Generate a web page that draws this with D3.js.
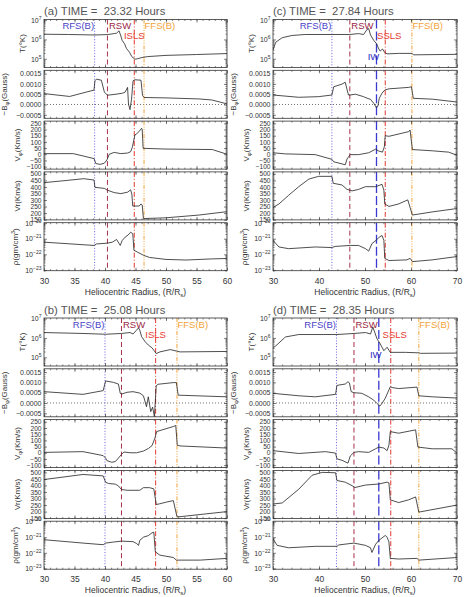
<!DOCTYPE html>
<html>
<head>
<meta charset="utf-8">
<script src="https://cdn.jsdelivr.net/npm/d3@7"></script>
<style>
  body { margin: 0; background: #fff; }
  svg { display: block; font-family: "Liberation Sans", Arial, sans-serif; }
</style>
</head>
<body>
<svg id="fig" width="464" height="597"></svg>
<script>
// ---- data: [radius (R/Rs), value] ----

// (a) 23.32 h
const tempA = [[30,1.86e6],[34,1.8e6],[38.3,1.7e6],[40.4,1.78e6],[41.5,2.0e6],[41.9,2.1e6],[42.3,2.8e6],[42.6,1.5e6],[42.8,9e5],[43.2,6e5],[43.5,3.5e5],[44.0,2.2e5],[44.4,1.3e5],[44.9,9.5e4],[45.3,1.0e5],[46.0,1.15e5],[47,1.3e5],[50,1.5e5],[55,1.66e5],[60,1.86e5]];
const bzA = [[30,0.00053],[34.2,0.00039],[38.2,0.0007],[38.35,0.00115],[38.6,0.00123],[39.4,0.00118],[39.9,0.0006],[40.4,0.00045],[41.8,0.0005],[42.9,0.00055],[43.3,0.0006],[43.7,0.00083],[43.85,0.00002],[44.1,-0.00025],[44.35,0.00026],[44.6,0.00115],[44.9,0.0012],[45.9,0.00118],[46.15,0.00045],[46.4,0.00034],[50,0.00032],[55.4,0.00027],[57.5,0.00022],[60,0.00003]];
const vphiA = [[30,5],[34.8,5],[38.2,-35],[38.5,-75],[39.2,-82],[39.9,-72],[40.3,-47],[40.7,0],[41.5,15],[42.6,5],[43.7,10],[44.2,20],[44.5,60],[44.9,156],[45.2,165],[45.8,196],[46.0,210],[46.1,200],[46.25,48],[50,42],[57.6,38],[60,0]];
const vrA = [[30,433],[33.8,450],[36.5,463],[38.2,453],[38.35,397],[39.9,389],[40.4,375],[41.5,357],[42.6,349],[43.7,360],[44.2,378],[44.4,345],[44.55,254],[45.6,254],[45.9,270],[46.1,262],[46.3,158],[50,164],[55.4,185],[60,211]];
const rhoA = [[30,6.0e-22],[38.2,3.7e-22],[38.6,4.6e-22],[40.4,5.2e-22],[41.2,6.0e-22],[41.9,8.9e-22],[42.5,3.7e-22],[42.8,7.5e-22],[43.3,1.26e-21],[43.8,1.74e-21],[44.2,2.6e-21],[44.55,2.1e-21],[44.75,1.8e-22],[45.3,1.4e-22],[46.3,8.7e-23],[47.3,6.3e-23],[50,4.7e-23],[53.3,4.3e-23],[57.6,5.1e-23],[60,5.4e-23]];

// (b) 25.08 h
const tempB = [[30,1.9e6],[36.4,1.7e6],[40.1,1.55e6],[42.7,1.7e6],[44.1,1.9e6],[44.6,1.6e6],[45.5,3.3e6],[45.7,2.5e6],[46.0,1.17e6],[46.6,6.3e5],[47.1,4.3e5],[47.7,3.1e5],[48.2,1.9e5],[48.4,1.55e5],[49.0,1.9e5],[50.7,2.5e5],[51.7,2.1e5],[52.3,1.9e5],[60,2.0e5]];
const bzB = [[30,0.00055],[36.4,0.00042],[39.7,0.0006],[40.1,0.00107],[41.4,0.001],[42.2,0.00092],[42.5,0.00047],[42.7,0.00043],[43.6,0.00052],[44.6,0.00055],[45.7,0.00048],[46.3,0.00035],[46.8,-0.00018],[47.1,0.0003],[47.5,-0.00042],[47.8,-0.0002],[48.1,-0.00065],[48.4,0.00084],[48.7,0.00091],[51.2,0.00099],[51.7,0.00099],[52.0,0.00038],[60,0.0003]];
const vphiB = [[30,3],[36.4,9],[39.7,-23],[40.1,-43],[40.3,-63],[41.1,-77],[41.7,-71],[42.2,-43],[42.7,-14],[43.1,6],[44.1,0],[45.2,0],[46.3,14],[47.1,34],[47.7,57],[48.2,120],[48.45,171],[51.2,212],[51.6,220],[51.85,60],[52.3,55],[60,38]];
const vrB = [[30,445],[36.4,484],[39.7,473],[40.1,424],[40.6,415],[41.7,410],[42.2,396],[42.7,369],[43.6,363],[45.7,363],[46.3,383],[47.3,383],[48.0,374],[48.4,254],[49.0,260],[50.1,273],[51.2,284],[51.8,161],[52.3,161],[60,200]];
const rhoB = [[30,6.9e-22],[36.4,4.2e-22],[39.7,3.3e-22],[40.1,4.2e-22],[41.4,4.9e-22],[42.7,5.6e-22],[44.6,5.2e-22],[45.2,3.9e-22],[45.5,3.0e-22],[45.7,6.3e-22],[46.3,1.0e-21],[47.1,1.26e-21],[47.7,1.9e-21],[48.0,2.1e-21],[48.25,1.15e-22],[49.0,7.1e-23],[51.2,5.0e-23],[51.7,3.4e-23],[55.6,3.4e-23],[60,4.4e-23]];

// (c) 27.84 h
const tempC = [[30,2.9e5],[30.6,7.2e5],[32.0,1.23e6],[34.1,1.6e6],[37.0,1.8e6],[42.8,1.8e6],[46.7,1.8e6],[48.6,2.0e6],[49.7,1.8e6],[50.4,3.2e6],[50.8,3.6e6],[51.2,1.7e6],[51.9,8.9e5],[52.5,6.0e5],[53.0,3.2e5],[53.3,2.5e5],[53.8,3.2e5],[54.3,2.1e5],[54.8,1.8e5],[57.3,1.9e5],[60.2,1.9e5],[60.6,1.6e5],[70,1.7e5]];
const bzC = [[30,0.00046],[35.6,0.00035],[39.9,0.00038],[42.8,0.00046],[43.2,0.00086],[45.0,0.00099],[45.7,0.00108],[46.4,0.00046],[46.8,0.00046],[47.9,0.0005],[49.7,0.00038],[50.4,0.00031],[51.2,0.00025],[51.9,0.00006],[52.5,-0.00016],[52.8,-0.00008],[53.1,0.0003],[53.7,0.00055],[54.3,0.0007],[55.2,0.00076],[59.5,0.00083],[60.1,0.00086],[60.5,0.0003],[64.6,0.00026],[70,0.00012]];
const vphiC = [[30,12],[32.7,3],[39.2,-3],[42.8,-41],[43.2,-61],[45.0,-78],[45.7,-85],[46.1,-38],[46.8,-3],[48.6,-3],[50.8,12],[52.3,41],[53.0,26],[53.8,17],[54.2,60],[54.4,150],[55.2,145],[59.5,183],[59.8,196],[60.3,38],[64.6,28],[68.2,17],[70,-8]];
const vrC = [[30,243],[31.3,270],[33.4,336],[35.6,402],[37.8,460],[39.9,481],[42.8,481],[43.1,428],[45.0,415],[46.1,381],[47.2,370],[48.6,381],[50.1,402],[52.3,402],[53.7,420],[54.1,375],[54.3,270],[55.2,251],[57.3,270],[59.3,301],[60.3,185],[64.6,209],[70,235]];
const rhoC = [[30,7.8e-22],[31.3,2.95e-22],[33.4,2.3e-22],[39.2,2.95e-22],[42.8,2.7e-22],[43.5,3.2e-22],[46.8,3.7e-22],[48.6,3.7e-22],[50.1,2.3e-22],[50.8,1.6e-22],[51.5,4.8e-22],[52.4,7.8e-22],[53.1,1.26e-21],[53.7,1.6e-21],[54.1,7.8e-22],[54.3,5.5e-23],[55.2,4.0e-23],[59.1,4.4e-23],[59.8,5.5e-23],[60.3,3.4e-23],[64.6,4.4e-23],[70,7.2e-23]];

// (d) 28.35 h
const tempD = [[30,2.95e5],[30.9,4.5e5],[32.7,1.12e6],[35.6,1.5e6],[43.9,1.5e6],[47.6,1.7e6],[50.1,1.9e6],[51.2,1.6e6],[51.7,3.7e6],[52.1,2.0e6],[52.6,9.1e5],[53.3,5.0e5],[54.1,2.2e5],[54.8,3.3e5],[55.5,1.8e5],[58.8,1.8e5],[61.7,1.7e5],[62.0,1.6e5],[70,1.65e5]];
const bzD = [[30,0.00047],[35.6,0.00035],[39.2,0.0003],[43.6,0.00042],[43.9,0.00085],[44.3,0.00087],[45.7,0.00092],[46.3,0.00103],[46.6,0.00098],[47.0,0.00055],[47.6,0.0005],[49.3,0.00047],[50.8,0.0003],[51.9,0.00014],[52.6,-0.00002],[53.2,-0.00015],[53.7,-0.00002],[54.4,0.00023],[55.5,0.00079],[55.9,0.00075],[57.3,0.0007],[61.3,0.00077],[61.7,0.00035],[64.6,0.0003],[70,0.00024]];
const vphiD = [[30,17],[35.6,-6],[41.4,9],[43.6,-3],[43.9,-49],[45.0,-61],[46.3,-84],[46.8,-26],[47.6,3],[48.6,9],[50.8,3],[52.3,32],[53.0,46],[54.1,38],[54.8,17],[55.2,61],[55.5,171],[57.3,158],[61.0,185],[61.5,46],[64.6,32],[68.9,32],[70,-3]];
const vrD = [[30,258],[32.0,266],[35.6,371],[38.5,478],[40.7,500],[43.6,497],[43.9,438],[45.7,425],[47.2,398],[47.8,384],[50.1,403],[53.0,411],[54.8,425],[55.2,420],[55.5,290],[57.3,269],[59.5,290],[61.0,312],[61.7,196],[70,250]];
const rhoD = [[30,7.9e-22],[30.9,3.0e-22],[33.4,2.1e-22],[39.2,2.6e-22],[43.9,2.6e-22],[44.3,3.2e-22],[47.6,4.2e-22],[50.1,3.0e-22],[51.2,2.1e-22],[51.5,1.05e-22],[52.3,3.5e-22],[53.0,6.2e-22],[54.4,1.29e-21],[54.8,1.0e-21],[55.2,5.0e-22],[55.5,4.4e-23],[57.3,4.0e-23],[61.3,4.4e-23],[61.7,3.4e-23],[70,5.0e-23]];

// shock / wave positions
const namesAB = ['RFS(B)', 'RSW', 'ISLS', 'FFS(B)'];
const namesCD = ['RFS(B)', 'RSW', 'IW', 'SSLS', 'FFS(B)'];
const shocksA = [38.3, 40.4, 44.8, 46.4];
const shocksB = [40.0, 42.7, 48.3, 51.8];
const shocksC = [42.8, 46.7, 52.5, 54.4, 60.2];
const shocksD = [43.8, 47.6, 53.0, 55.6, 61.7];

const times = ['23.32', '25.08', '27.84', '28.35'];
const xTicksLeft = [30, 35, 40, 45, 50, 55, 60];
const xTicksRight = [30, 40, 50, 60, 70];

// ---- layout ----
const svg = d3.select('#fig');
const cols = [
  { left: 44, right: 227, domain: [30, 60], ticks: xTicksLeft, minor: 1 },
  { left: 273, right: 457, domain: [30, 70], ticks: xTicksRight, minor: 2 }
];
const rowTops = [19.5, 318];
const step = 50.8, ph = 48;

const shockStyle = {
  'RFS(B)': { color: '#5a52d6', dash: '1,1.8', w: 0.9 },
  'RSW':    { color: '#a8304e', dash: '5,3', w: 1 },
  'ISLS':   { color: '#e23a32', dash: '5,2,1,2', w: 1 },
  'SSLS':   { color: '#e23a32', dash: '5,2,1,2', w: 1 },
  'FFS(B)': { color: '#f2a33a', dash: '4,1.5,1,1.5,1,1.5,1,1.5', w: 1 },
  'IW':     { color: '#3a3ad0', dash: '9,3', w: 1.3 }
};
const labelColor = { 'RFS(B)': '#4b3fc8', 'RSW': '#9a1f45', 'ISLS': '#e8392e', 'SSLS': '#e8392e', 'FFS(B)': '#f2a33a', 'IW': '#2c2cc0' };

const panels = [
  { tag: '(a)', time: times[0], col: 0, row: 0, T: tempA, Bz: bzA, Vp: vphiA, Vr: vrA, rho: rhoA, shocks: shocksA, names: namesAB },
  { tag: '(b)', time: times[1], col: 0, row: 1, T: tempB, Bz: bzB, Vp: vphiB, Vr: vrB, rho: rhoB, shocks: shocksB, names: namesAB },
  { tag: '(c)', time: times[2], col: 1, row: 0, T: tempC, Bz: bzC, Vp: vphiC, Vr: vrC, rho: rhoC, shocks: shocksC, names: namesCD },
  { tag: '(d)', time: times[3], col: 1, row: 1, T: tempD, Bz: bzD, Vp: vphiD, Vr: vrD, rho: rhoD, shocks: shocksD, names: namesCD }
];

function logMinors(dom) {
  const out = [];
  for (let e = Math.floor(Math.log10(dom[0])); e <= Math.ceil(Math.log10(dom[1])); e++)
    for (let m = 2; m <= 9; m++) {
      const v = m * Math.pow(10, e);
      if (v > dom[0] && v < dom[1]) out.push(v);
    }
  return out;
}
function linMinors(dom, s) {
  return d3.range(Math.ceil(dom[0] / s) * s, dom[1], s);
}

const vars = [
  { key: 'T', log: true, domain: [Math.pow(10, 4.55), Math.pow(10, 7.03)], ticks: [1e5, 1e6, 1e7], tx: 19, fs: 7 },
  { key: 'Bz', log: false, domain: [-0.00067, 0.00166], ticks: [-0.0005, 0, 0.0005, 0.001, 0.0015], minor: 0.0001, fmt: d3.format('.4f'), tx: 37, fs: 7 },
  { key: 'Vp', log: false, domain: [-120, 268], ticks: d3.range(-100, 251, 50), minor: 10, fmt: d3.format('d'), tx: 24, fs: 6.6 },
  { key: 'Vr', log: false, domain: [148, 515], ticks: d3.range(150, 501, 50), minor: 10, fmt: d3.format('d'), tx: 24, fs: 6.6 },
  { key: 'rho', log: true, domain: [Math.pow(10, -23.05), Math.pow(10, -19.975)], ticks: [1e-23, 1e-22, 1e-21, 1e-20], tx: 26, fs: 7 }
];

function yTitle(g, key) {
  if (key === 'T') { g.text('T(°K)'); return; }
  if (key === 'Bz') {
    g.append('tspan').text('−B');
    g.append('tspan').attr('dy', 2).attr('font-size', 6).text('φ');
    g.append('tspan').attr('dy', -2).text('(Gauss)');
    return;
  }
  if (key === 'Vp') {
    g.append('tspan').text('V');
    g.append('tspan').attr('dy', 2).attr('font-size', 6).text('φ');
    g.append('tspan').attr('dy', -2).text('(Km/s)');
    return;
  }
  if (key === 'Vr') { g.text('Vr(Km/s)'); return; }
  g.append('tspan').text('ρ(gm/cm');
  g.append('tspan').attr('dy', -3).attr('font-size', 5.5).text('3');
  g.append('tspan').attr('dy', 3).text(')');
}

function styleAxis(a) {
  a.select('.domain').remove();
  a.attr('color', '#333').attr('font-family', '"Liberation Sans", Arial, sans-serif');
  a.selectAll('line').attr('stroke-width', 0.6);
}

panels.forEach((p, pi) => {
  const c = cols[p.col];
  const x = d3.scaleLinear().domain(c.domain).range([c.left, c.right]);
  const xMinor = linMinors(c.domain, c.minor).filter(v => v > c.domain[0]);
  const row0 = rowTops[p.row];

  // panel title (two spaces after "=" as in the original)
  svg.append('text')
    .attr('x', c.left).attr('y', row0 - 4.5)
    .attr('font-size', 11.3).attr('fill', '#555')
    .text(`${p.tag} TIME =\u00a0\u00a0${p.time} Hours`);

  vars.forEach((v, i) => {
    const top = row0 + i * step, bot = top + ph;
    const y = (v.log ? d3.scaleLog() : d3.scaleLinear()).domain(v.domain).range([bot, top]);
    const g = svg.append('g');
    const cid = `clip${pi}_${i}`;
    svg.append('clipPath').attr('id', cid).append('rect')
      .attr('x', c.left).attr('y', top).attr('width', c.right - c.left).attr('height', ph);

    if (v.key === 'Bz') {
      g.append('line')
        .attr('x1', c.left).attr('x2', c.right).attr('y1', y(0)).attr('y2', y(0))
        .attr('stroke', '#333').attr('stroke-width', 0.7).attr('stroke-dasharray', '1,2');
    }

    // shock / wave markers
    p.shocks.forEach((s, k) => {
      const st = shockStyle[p.names[k]];
      g.append('line')
        .attr('x1', x(s)).attr('x2', x(s)).attr('y1', top).attr('y2', bot)
        .attr('stroke', st.color).attr('stroke-width', st.w).attr('stroke-dasharray', st.dash);
    });

    // data curve
    g.append('path')
      .datum(p[v.key])
      .attr('clip-path', `url(#${cid})`)
      .attr('fill', 'none').attr('stroke', '#222').attr('stroke-width', 0.8)
      .attr('d', d3.line().x(d => x(d[0])).y(d => y(d[1])));

    // frame
    g.append('rect')
      .attr('x', c.left).attr('y', top).attr('width', c.right - c.left).attr('height', ph)
      .attr('fill', 'none').attr('stroke', '#333').attr('stroke-width', 0.8);

    // x ticks (inward, top and bottom)
    const isBottom = i === vars.length - 1;
    const xb = g.append('g').attr('transform', `translate(0,${bot})`)
      .call(d3.axisBottom(x).tickValues(c.ticks).tickSize(-3).tickPadding(7)
        .tickFormat(isBottom ? d3.format('d') : ''));
    styleAxis(xb);
    xb.selectAll('text').attr('font-size', 8.5).attr('fill', '#333');
    styleAxis(g.append('g').attr('transform', `translate(0,${bot})`)
      .call(d3.axisBottom(x).tickValues(xMinor).tickSize(-1.5).tickFormat('')));
    styleAxis(g.append('g').attr('transform', `translate(0,${top})`)
      .call(d3.axisTop(x).tickValues(c.ticks).tickSize(-3).tickFormat('')));
    styleAxis(g.append('g').attr('transform', `translate(0,${top})`)
      .call(d3.axisTop(x).tickValues(xMinor).tickSize(-1.5).tickFormat('')));

    // y ticks (inward, left and right)
    const yMinor = v.log ? logMinors(v.domain) : linMinors(v.domain, v.minor);
    const yl = g.append('g').attr('transform', `translate(${c.left},0)`)
      .call(d3.axisLeft(y).tickValues(v.ticks).tickSize(-3).tickPadding(2.5)
        .tickFormat(v.log ? '' : v.fmt));
    styleAxis(yl);
    yl.selectAll('text').attr('font-size', v.fs).attr('fill', '#333');
    if (v.log) {
      yl.selectAll('.tick text').each(function (d) {
        const t = d3.select(this);
        const e = Math.round(Math.log10(d));
        t.append('tspan').text('10');
        t.append('tspan').attr('dy', -3).attr('font-size', 5).text(String(e).replace('-', '−'));
      });
    }
    styleAxis(g.append('g').attr('transform', `translate(${c.left},0)`)
      .call(d3.axisLeft(y).tickValues(yMinor).tickSize(-1.5).tickFormat('')));
    styleAxis(g.append('g').attr('transform', `translate(${c.right},0)`)
      .call(d3.axisRight(y).tickValues(v.ticks).tickSize(-3).tickFormat('')));
    styleAxis(g.append('g').attr('transform', `translate(${c.right},0)`)
      .call(d3.axisRight(y).tickValues(yMinor).tickSize(-1.5).tickFormat('')));

    // y title
    const yt = svg.append('text')
      .attr('transform', `translate(${c.left - v.tx},${(top + bot) / 2}) rotate(-90)`)
      .attr('text-anchor', 'middle').attr('font-size', 8).attr('fill', '#333');
    yTitle(yt, v.key);

    // marker labels in the temperature panel
    if (v.key === 'T') {
      p.shocks.forEach((s, k) => {
        const name = p.names[k];
        let lx = x(s), ly = top + 9.5, anchor = 'start';
        if (name === 'RFS(B)') { lx -= 0.5; anchor = 'end'; }
        else if (name === 'RSW') { lx += 1.5; }
        else if (name === 'FFS(B)') { lx += 0.5; }
        else if (name === 'ISLS') { anchor = 'middle'; ly = top + 19.5; }
        else if (name === 'SSLS') { lx += 4; anchor = 'middle'; ly = top + 19.5; }
        else if (name === 'IW') { lx -= 3; anchor = 'middle'; ly = top + 40; }
        svg.append('text')
          .attr('x', lx).attr('y', ly).attr('text-anchor', anchor)
          .attr('font-family', '"Liberation Sans Narrow", "Liberation Sans", Arial, sans-serif')
          .attr('font-size', 9.5).attr('fill', labelColor[name])
          .text(name);
      });
    }
  });

  // x-axis title
  const xt = svg.append('text')
    .attr('x', (c.left + c.right) / 2).attr('y', row0 + 4 * step + ph + 24)
    .attr('text-anchor', 'middle').attr('font-size', 8.5).attr('fill', '#333');
  xt.append('tspan').text('Heliocentric Radius, (R/R');
  xt.append('tspan').attr('dy', 2).attr('font-size', 6).text('s');
  xt.append('tspan').attr('dy', -2).text(')');
});
</script>
</body>
</html>
